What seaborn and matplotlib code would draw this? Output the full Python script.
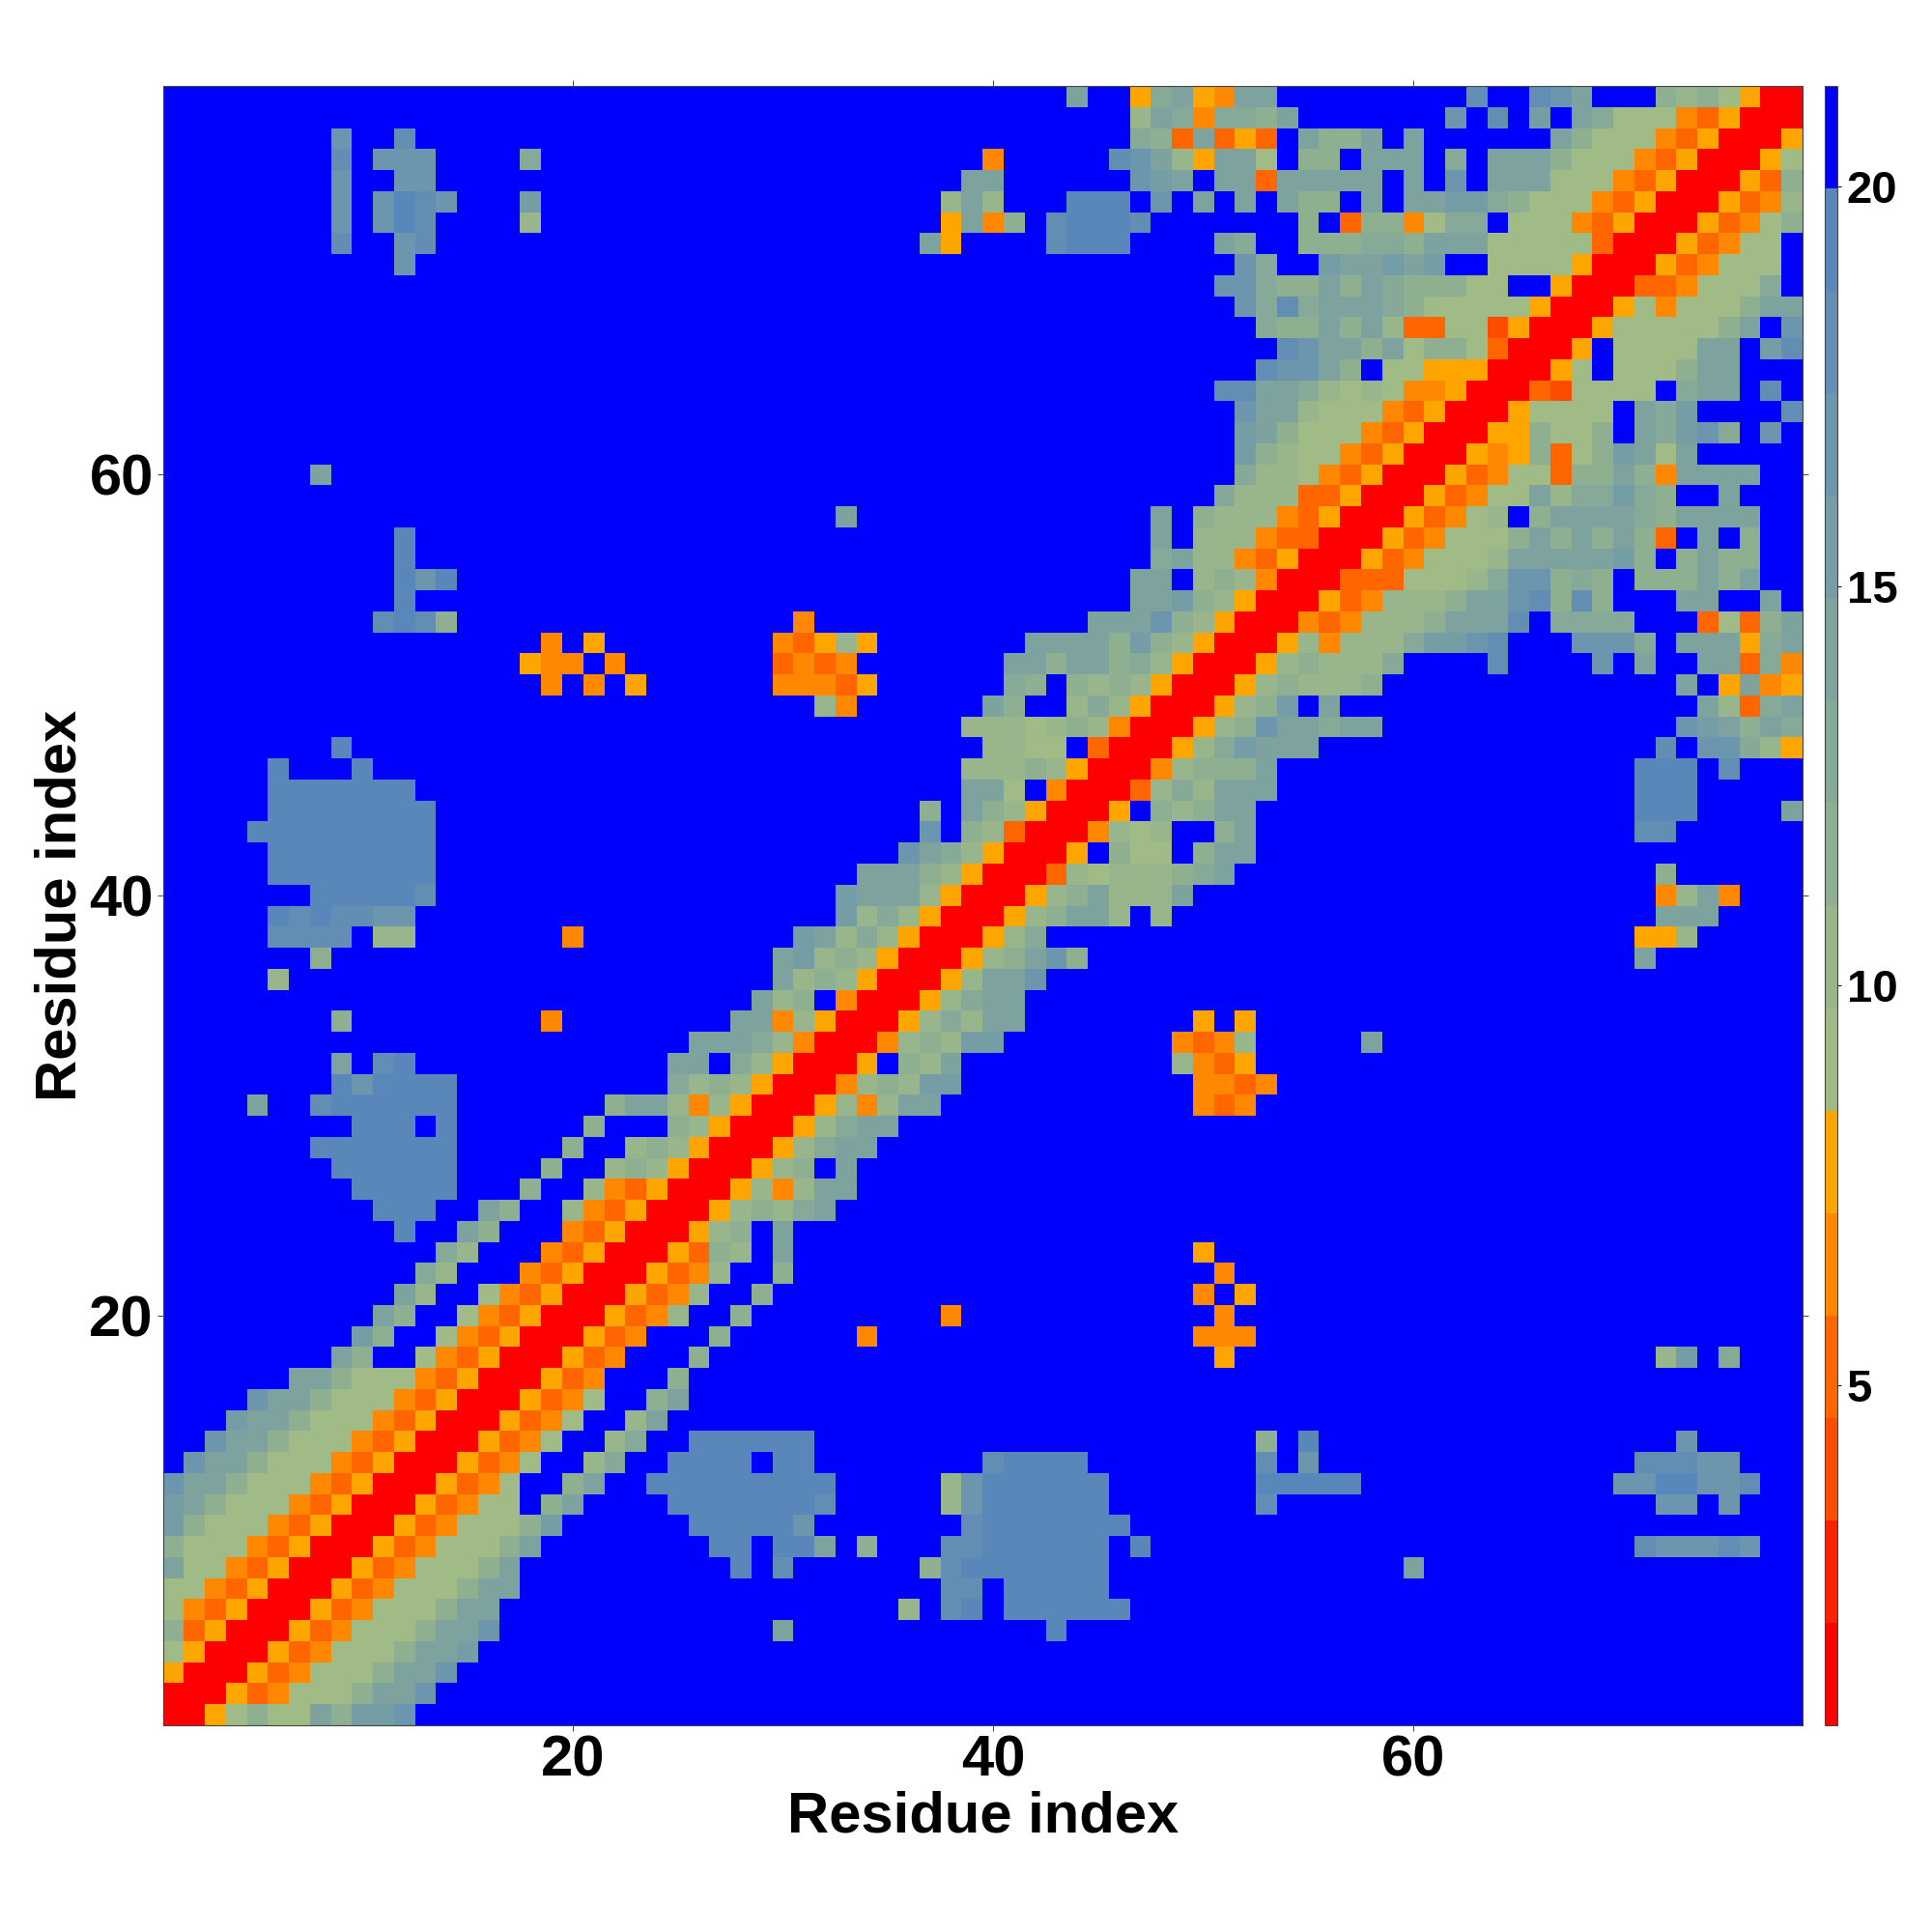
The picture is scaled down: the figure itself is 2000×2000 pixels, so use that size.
import matplotlib
matplotlib.use("Agg")
import matplotlib.pyplot as plt
from matplotlib.colors import ListedColormap
import numpy as np
import pandas as pd
import seaborn as sns

# distance bands: one hex digit per cell (0 = red ... f = blue)
# grouped in tens, '.' = mirrored from the other triangle, short rows are blue to residue 78
rows_1_20 = [
    "0056866a8b bc",
    ".005346668 aac",
    "..00534666 8aac",
    "...0053466 68aab",
    "....005346 668aac",
    ".....00534 6668aa",
    "......0053 46668aa",
    ".......005 346668a",
    "........00 5346668a",
    ".........0 05346668b",
    ".......... 0053466f8a",
    ".......... .005346ff8",
    ".......... ..005346ff",
    ".......... ...005346f",
    ".......... ....005346",
    ".......... .....00534",
    ".......... ......0053",
    ".......... .......005",
    ".......... ........00",
    ".......... .........0",
]

# contacts away from the diagonal for rows 5-20, residues 21-78
far_5_20 = {
    5: "fffffffffa ffffffffff ffefffffff",
    6: "ffffffffff fffff7fdef eeeeeeffff",
    7: "ffffffffff fffffffddf eeeeefffff",
    8: "fffffffefd ffffff8dee eeeeefffff fffffffffa",
    9: "ffffffeefe eaf8fffdde eeeeefefff ffffffffff ffffffffff dcccdcff",
    10: "fffffeeeee cfffffffde eeeeeeffff",
    11: "ffffeeeeee edfffff7ce eeeeefffff ffdfffffff ffffffffff fccfcfff",
    12: "affeeeeeee eefffff7ce eeeeefffff ffeeeeefff fffffffffc ceeccdff",
    13: "79ffeeeefe effffffffd eeeeffffff ffdfcfffff ffffffffff dddccfff",
    14: "f79ffeeeee efffffffff ffffffffff ff8fefffff ffffffffff ffcfffff",
    15: "ff7affffff",
    16: "6ff8afffff",
    17: "4fff8fffff",
    18: "34fff8ffff ffffffffff ffffffffff 5fffffffff ffffffffff f7bf9fff",
    19: "534fff8fff fff4ffffff fffffffff4 44ffffffff",
    20: "05347ff8ff fffffff4ff ffffffffff 4fffffffff",
}

# rows 21-40, starting at residue 21
rows_21_40 = [
    "005347ff8f ffffffffff fffffffff4 f5ffffffff",
    ".005347ff8 ffffffffff ffffffffff 4fffffffff",
    "..005387fa ffffffffff fffffffff5",
    "...00578fa",
    "....005787 9a",
    ".....00574 7aa",
    "......0057 8fa",
    ".......005 79aa",
    "........00 579aa",
    ".........0 05747aafff fffffffff4 34ffffffff",
    ".......... 004787bbff fffffffff4 434fffffff",
    ".......... .005f87aff ffffffff74 35ffffffff",
    ".......... ..004787bb ffffffff43 47fffffaff",
    ".......... ...005797a affffffff5 f5ffffffff",
    ".......... ....00579a a",
    ".......... .....0057a ac",
    ".......... ......0057 8ac8ffffff ffffffffff ffffffffff afffffff",
    ".......... .......005 79ffffffff ffffffffff ffffffffff 557fffff",
    ".......... ........00 578aa7f7ff ffffffffff ffffffffff faaaffff",
    ".......... .........0 0578a777af ffffffffff ffffffffff f47a4fff",
]

# rows 41-60, starting at residue 41
rows_41_60 = [
    "0037677789 afffffffff ffffffffff f8ffffff",
    ".005f866f8 aa",
    "..004767ff 8affffffff ffffffffff ddffffff",
    "...005f878 aaffffffff ffffffffff eeeffffa",
    "....003797 aaafffffff ffffffffff eeefffff",
    ".....00478 88afffffff ffffffffff eeefdfff",
    "......0057 9baaafffff ffffffffff fdfcc975",
    ".......005 78caa9aaff ffffffffff ffcba8a9",
    "........00 578bfaffff ffffffffff fffa739a",
    ".........0 05787778ff ffffffffff ffaf5a45",
    ".......... 005787779f fffdffffcf affaa394",
    ".......... .005747779 bbcdfffccc 9faaa59a",
    ".......... ..00434777 8aaadf9999 fff3638a",
    ".......... ...0053477 78aacd8d8f ffaaffaf",
    ".......... ....003336 6679cc898f 888a8aff",
    ".......... .....00534 6667aaaaab 8f8a88ff",
    ".......... ......0053 46668a8a8a 83faf8ff",
    ".......... .......005 3467f8aaaa 98aaaaff",
    ".......... ........00 53466a799b 98ffafff",
    ".......... .........0 053466388a 84aaaaff",
]

# rows 61-78, starting at residue 61
rows_61_78 = [
    "005458368b a6afffff",
    ".00558668f a9bc9fcf",
    "..0056666f a9bffffd",
    "...0032666 6f9aafdf",
    "....0056f6 668aafff",
    ".....005f6 666aafbd",
    "......0056 66668afc",
    ".......005 646668aa",
    "........00 3346669f",
    ".........0 0534666f",
    ".......... 0053466f",
    ".......... .0053468",
    ".......... ..005347",
    ".......... ...00538",
    ".......... ....0056",
    ".......... .....005",
    ".......... ......00",
    ".......... .......0",
]

band_colors = [
    "#ff0000", "#ff2000", "#ff4d00", "#ff6600", "#ff8800", "#ffa500",
    "#a0bb85", "#98b58b", "#8faf91", "#87a997", "#7ea39e", "#759da6",
    "#6c96ad", "#638eb3", "#5a87ba", "#0000ff",
]
dist_min = 0.744
dist_max = 21.26
residue_ticks = [20, 40, 60]
bar_ticks = [5, 10, 15, 20]
axis_label = "Residue index"

n = 78
band = (dist_max - dist_min) / len(band_colors)


def fill_row(m, r, start, text):
    groups = text.split(" ")
    # every group but the last has to be a full ten, otherwise columns shift
    assert all(len(g) == 10 for g in groups[:-1]), (r, text)
    for k, ch in enumerate("".join(groups)):
        if ch != "." and start + k <= n:
            m[r - 1, start + k - 1] = int(ch, 16)


levels = np.full((n, n), 15)
for i, text in enumerate(rows_1_20):
    fill_row(levels, i + 1, 1, text)
for r, text in far_5_20.items():
    fill_row(levels, r, 21, text)
for i, text in enumerate(rows_21_40):
    fill_row(levels, i + 21, 21, text)
for i, text in enumerate(rows_41_60):
    fill_row(levels, i + 41, 41, text)
for i, text in enumerate(rows_61_78):
    fill_row(levels, i + 61, 61, text)

# the map is symmetric, only the lower right half was read
upper = np.triu(levels)
levels = upper + upper.T - np.diag(np.diag(upper))
dist = dist_min + (levels + 0.5) * band
df = pd.DataFrame(dist, index=range(1, n + 1), columns=range(1, n + 1))

plt.rcParams["font.family"] = ["Liberation Sans", "DejaVu Sans"]
plt.rcParams["font.weight"] = "bold"

fig = plt.figure(figsize=(20, 20), dpi=100)
ax = fig.add_axes([168.5 / 2000, 1 - 1786 / 2000, 1697.5 / 2000, 1697 / 2000])
cax = fig.add_axes([1889 / 2000, 1 - 1786 / 2000, 13 / 2000, 1697 / 2000])

sns.heatmap(df, ax=ax, cbar_ax=cax, cmap=ListedColormap(band_colors),
            vmin=dist_min, vmax=dist_max, square=False,
            xticklabels=False, yticklabels=False)
ax.invert_yaxis()

ax.set_xticks([t - 0.5 for t in residue_ticks])
ax.set_yticks([t - 0.5 for t in residue_ticks])
ax.set_xticklabels(residue_ticks, fontsize=43, fontweight="bold", rotation=0)
ax.set_yticklabels(residue_ticks, fontsize=43, fontweight="bold", rotation=0)
ax.tick_params(axis="both", length=4, width=0.7, color="#444444", pad=3,
               top=True, right=True, bottom=True, left=True)
ax.set_xlabel(axis_label, fontsize=43, fontweight="bold", labelpad=2)
ax.set_ylabel(axis_label, fontsize=43, fontweight="bold", labelpad=1)
for side in ax.spines.values():
    side.set_visible(True)
    side.set_linewidth(0.8)
    side.set_color("#444444")

cb = ax.collections[0].colorbar
cb.set_ticks(bar_ticks)
cb.set_ticklabels([str(t) for t in bar_ticks], fontsize=34, fontweight="bold")
cb.ax.tick_params(length=3, width=0.7, pad=4)
cb.outline.set_linewidth(0.8)
cb.outline.set_edgecolor("#444444")

fig.savefig("out.png", dpi=100)
